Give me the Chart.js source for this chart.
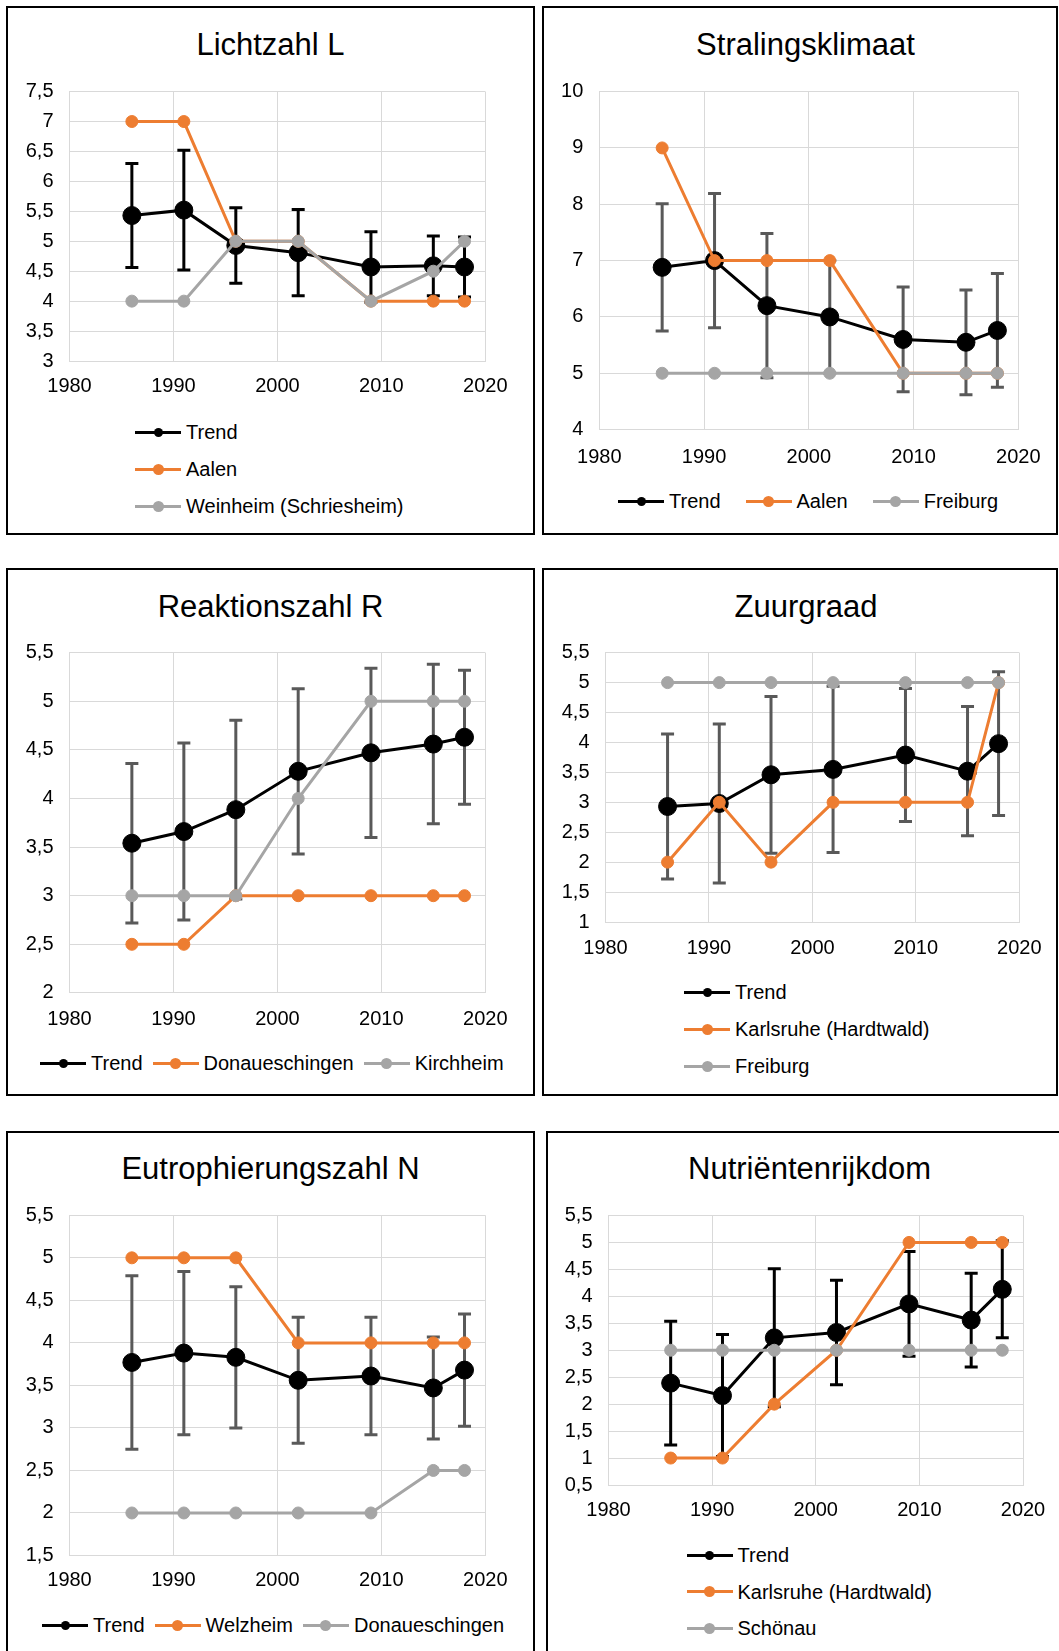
<!DOCTYPE html>
<html><head><meta charset="utf-8">
<script src="https://cdn.jsdelivr.net/npm/chart.js@4.4.1/dist/chart.umd.min.js"></script>
<style>
html,body{margin:0;padding:0;background:#fff;}
body{width:1059px;height:1651px;position:relative;overflow:hidden;font-family:"Liberation Sans",Arial,sans-serif;}
.border{position:absolute;border:2px solid #000;box-sizing:border-box;}
canvas{position:absolute;}
.title{position:absolute;width:500px;text-align:center;font-size:31px;line-height:37px;color:#000;white-space:nowrap;}
.legend{position:absolute;display:flex;font-size:20px;color:#000;}
.item{display:flex;align-items:center;height:24px;white-space:nowrap;}
.sym{position:relative;width:46px;height:24px;flex:none;}
.sym .ln{position:absolute;left:0;right:0;top:10.5px;height:3px;}
.sym .dot{position:absolute;border-radius:50%;}
.txt{margin-left:5px;line-height:24px;}
</style></head><body>
<script>
// ---------- data ----------
const years = [1986, 1991, 1996, 2002, 2009, 2015, 2018];
const xTicks = [1980, 1990, 2000, 2010, 2020];

// Lichtzahl L
const lichtNames = ['Trend', 'Aalen', 'Weinheim (Schriesheim)'];
const lichtTicks = [3, 3.5, 4, 4.5, 5, 5.5, 6, 6.5, 7, 7.5];
const lichtTrend = [5.43, 5.52, 4.93, 4.81, 4.57, 4.59, 4.57];
const lichtErr = [0.87, 1.0, 0.63, 0.72, 0.59, 0.5, 0.5];
const lichtAalen = [7, 7, 5, 5, 4, 4, 4];
const lichtWeinheim = [4, 4, 5, 5, 4, 4.5, 5];

// Stralingsklimaat
const stralNames = ['Trend', 'Aalen', 'Freiburg'];
const stralTicks = [4, 5, 6, 7, 8, 9, 10];
const stralTrend = [6.88, 7.0, 6.2, 6.0, 5.6, 5.55, 5.76];
const stralErr = [1.13, 1.19, 1.28, 1.0, 0.93, 0.93, 1.01];
const stralAalen = [9, 7, 7, 7, 5, 5, 5];
const stralFreiburg = [5, 5, 5, 5, 5, 5, 5];

// Reaktionszahl R
const reakNames = ['Trend', 'Donaueschingen', 'Kirchheim'];
const reakTicks = [2, 2.5, 3, 3.5, 4, 4.5, 5, 5.5];
const reakTrend = [3.54, 3.66, 3.885, 4.28, 4.47, 4.56, 4.63];
const reakErr = [0.82, 0.91, 0.92, 0.85, 0.87, 0.82, 0.69];
const reakDonau = [2.5, 2.5, 3, 3, 3, 3, 3];
const reakKirchheim = [3, 3, 3, 4, 5, 5, 5];

// Zuurgraad
const zuurNames = ['Trend', 'Karlsruhe (Hardtwald)', 'Freiburg'];
const zuurTicks = [1, 1.5, 2, 2.5, 3, 3.5, 4, 4.5, 5, 5.5];
const zuurTrend = [2.93, 2.98, 3.46, 3.55, 3.79, 3.52, 3.98];
const zuurErr = [1.21, 1.33, 1.31, 1.39, 1.11, 1.08, 1.2];
const zuurKarlsruhe = [2, 3, 2, 3, 3, 3, 5];
const zuurFreiburg = [5, 5, 5, 5, 5, 5, 5];

// Eutrophierungszahl N
const eutroNames = ['Trend', 'Welzheim', 'Donaueschingen'];
const eutroTicks = [1.5, 2, 2.5, 3, 3.5, 4, 4.5, 5, 5.5];
const eutroTrend = [3.77, 3.88, 3.83, 3.56, 3.61, 3.47, 3.68];
const eutroErr = [1.02, 0.96, 0.83, 0.74, 0.69, 0.6, 0.66];
const eutroWelzheim = [5, 5, 5, 4, 4, 4, 4];
const eutroDonau = [2, 2, 2, 2, 2, 2.5, 2.5];

// Nutriëntenrijkdom
const nutriNames = ['Trend', 'Karlsruhe (Hardtwald)', 'Schönau'];
const nutriTicks = [0.5, 1, 1.5, 2, 2.5, 3, 3.5, 4, 4.5, 5, 5.5];
const nutriTrend = [2.39, 2.16, 3.23, 3.33, 3.86, 3.56, 4.13];
const nutriErr = [1.15, 1.13, 1.28, 0.97, 0.97, 0.87, 0.9];
const nutriKarlsruhe = [1, 1, 2, 3, 5, 5, 5];
const nutriSchoenau = [3, 3, 3, 3, 3, 3, 3];

// ---------- styles ----------
const ORANGE = '#ED7D31', GRAY = '#A5A5A5', BLACK = '#000000', ERRGRAY = '#595959', GRID = '#D9D9D9';
const FONT = '"Liberation Sans", Arial, sans-serif';

const panels = [
  {title: 'Lichtzahl L', names: lichtNames, yTicks: lichtTicks, trend: lichtTrend, err: lichtErr,
   series: [lichtAalen, lichtWeinheim], colors: [ORANGE, GRAY], errColor: BLACK,
   border: [6, 6, 535, 535], titleX: 270.5, titleY: 44, plot: [69.5, 91.6, 485.3, 361], labelY: 386,
   legend: {dir: 'v', x: 135, y: 432, step: 37}},
  {title: 'Stralingsklimaat', names: stralNames, yTicks: stralTicks, trend: stralTrend, err: stralErr,
   series: [stralAalen, stralFreiburg], colors: [ORANGE, GRAY], errColor: ERRGRAY,
   border: [542, 6, 1058, 535], titleX: 805.5, titleY: 44, plot: [599.3, 91.6, 1018.7, 429.6], labelY: 457,
   legend: {dir: 'h', x: 618, y: 501, gap: 25}},
  {title: 'Reaktionszahl R', names: reakNames, yTicks: reakTicks, trend: reakTrend, err: reakErr,
   series: [reakDonau, reakKirchheim], colors: [ORANGE, GRAY], errColor: ERRGRAY,
   border: [6, 568, 535, 1096], titleX: 270.5, titleY: 606, plot: [69.5, 652.7, 485.3, 992.9], labelY: 1019,
   legend: {dir: 'h', x: 40, y: 1063, gap: 10}},
  {title: 'Zuurgraad', names: zuurNames, yTicks: zuurTicks, trend: zuurTrend, err: zuurErr,
   series: [zuurKarlsruhe, zuurFreiburg], colors: [ORANGE, GRAY], errColor: ERRGRAY,
   border: [542, 568, 1058, 1096], titleX: 806, titleY: 606, plot: [605.5, 652.7, 1019.5, 922], labelY: 948.5,
   legend: {dir: 'v', x: 684, y: 992, step: 37}},
  {title: 'Eutrophierungszahl N', names: eutroNames, yTicks: eutroTicks, trend: eutroTrend, err: eutroErr,
   series: [eutroWelzheim, eutroDonau], colors: [ORANGE, GRAY], errColor: ERRGRAY,
   border: [6, 1131, 535, 1665], titleX: 270.5, titleY: 1168, plot: [69.5, 1215.3, 485.3, 1555.5], labelY: 1580.5,
   legend: {dir: 'h', x: 42, y: 1625, gap: 10}},
  {title: 'Nutriëntenrijkdom', names: nutriNames, yTicks: nutriTicks, trend: nutriTrend, err: nutriErr,
   series: [nutriKarlsruhe, nutriSchoenau], colors: [ORANGE, GRAY], errColor: BLACK,
   border: [546, 1131, 1063, 1665], titleX: 809.5, titleY: 1168, plot: [608.5, 1215.5, 1023, 1485], labelY: 1510,
   legend: {dir: 'v', x: 686.5, y: 1555, step: 36.5}}
];

// ---------- error bar plugin (uses chart scales) ----------
const errorBars = {
  id: 'errorBars',
  beforeDatasetsDraw(chart, args, opts) {
    const ctx = chart.ctx, xs = chart.scales.x, ys = chart.scales.y;
    const ds = chart.data.datasets[0];
    ctx.save();
    ctx.strokeStyle = opts.color;
    ctx.lineWidth = 3;
    ctx.lineCap = 'butt';
    ds.data.forEach((pt, i) => {
      const e = opts.errors[i];
      const px = xs.getPixelForValue(pt.x);
      const t = ys.getPixelForValue(pt.y + e);
      const b = ys.getPixelForValue(pt.y - e);
      ctx.beginPath();
      ctx.moveTo(px, t); ctx.lineTo(px, b);
      ctx.moveTo(px - 6.5, t); ctx.lineTo(px + 6.5, t);
      ctx.moveTo(px - 6.5, b); ctx.lineTo(px + 6.5, b);
      ctx.stroke();
    });
    ctx.restore();
  }
};

function fmt(v) { return String(v).replace('.', ','); }

function makePanel(p) {
  const [bl, bt, br, bb] = p.border;
  const bd = document.createElement('div');
  bd.className = 'border';
  bd.style.cssText = `left:${bl}px;top:${bt}px;width:${br - bl}px;height:${bb - bt}px`;
  document.body.appendChild(bd);

  const ti = document.createElement('div');
  ti.className = 'title';
  ti.textContent = p.title;
  ti.style.left = (p.titleX - 250) + 'px';
  ti.style.top = (p.titleY - 18.5) + 'px';
  document.body.appendChild(ti);

  const cL = bl + 2, cR = Math.min(br - 2, 1059), cW = cR - cL;
  const cT = bt + 2, cB = Math.round(p.labelY + 18), cH = cB - cT;
  const R = cR - p.plot[2];
  const yW = p.plot[0] - cL;
  const padTop = p.plot[1] - cT;
  const xH = cB - p.plot[3];
  const xPad = p.labelY - p.plot[3] - 12;

  const cv = document.createElement('canvas');
  cv.width = cW; cv.height = cH;
  cv.style.cssText = `left:${cL}px;top:${cT}px;width:${cW}px;height:${cH}px`;
  document.body.appendChild(cv);

  const datasets = [{
    label: p.names[0],
    data: years.map((x, i) => ({x, y: p.trend[i]})),
    borderColor: BLACK, backgroundColor: BLACK, borderWidth: 3,
    pointRadius: 9, pointHoverRadius: 9, pointBorderWidth: 1,
    pointBackgroundColor: BLACK, pointBorderColor: BLACK,
    tension: 0, order: 3, legendDot: 9
  }];
  p.series.forEach((vals, k) => {
    datasets.push({
      label: p.names[k + 1],
      data: years.map((x, i) => ({x, y: vals[i]})),
      borderColor: p.colors[k], backgroundColor: p.colors[k], borderWidth: 3,
      pointRadius: 6, pointHoverRadius: 6, pointBorderWidth: 1,
      pointBackgroundColor: p.colors[k], pointBorderColor: p.colors[k],
      tension: 0, order: 2 - k, legendDot: 11
    });
  });

  const chart = new Chart(cv, {
    type: 'line',
    data: {datasets},
    plugins: [errorBars],
    options: {
      responsive: false, animation: false, devicePixelRatio: 1, events: [],
      layout: {padding: {left: 0, right: R, top: padTop, bottom: 0}},
      plugins: {
        legend: {display: false},
        tooltip: {enabled: false},
        title: {display: false},
        errorBars: {errors: p.err, color: p.errColor}
      },
      scales: {
        x: {
          type: 'linear', min: xTicks[0], max: xTicks[xTicks.length - 1],
          afterBuildTicks: s => { s.ticks = xTicks.map(v => ({value: v})); },
          afterFit: s => { s.height = xH; },
          grid: {color: GRID, lineWidth: 1, drawTicks: false},
          border: {color: GRID, width: 1},
          ticks: {color: '#000', font: {family: FONT, size: 20}, padding: xPad, maxRotation: 0, autoSkip: false,
            callback: v => String(v)}
        },
        y: {
          type: 'linear', min: p.yTicks[0], max: p.yTicks[p.yTicks.length - 1],
          afterBuildTicks: s => { s.ticks = p.yTicks.map(v => ({value: v})); },
          afterFit: s => { s.width = yW; },
          grid: {color: GRID, lineWidth: 1, drawTicks: false},
          border: {color: GRID, width: 1},
          ticks: {color: '#000', font: {family: FONT, size: 20}, padding: 16, autoSkip: false,
            callback: v => fmt(v)}
        }
      }
    }
  });

  // HTML legend generated from the chart's datasets
  const lg = document.createElement('div');
  lg.className = 'legend';
  const L = p.legend;
  lg.style.left = L.x + 'px';
  lg.style.top = (L.y - 12) + 'px';
  if (L.dir === 'v') { lg.style.flexDirection = 'column'; lg.style.rowGap = (L.step - 24) + 'px'; }
  else { lg.style.flexDirection = 'row'; lg.style.columnGap = L.gap + 'px'; }
  chart.data.datasets.forEach(ds => {
    const it = document.createElement('div'); it.className = 'item';
    const sym = document.createElement('span'); sym.className = 'sym';
    const ln = document.createElement('span'); ln.className = 'ln'; ln.style.background = ds.borderColor;
    const dot = document.createElement('span'); dot.className = 'dot';
    const d = ds.legendDot;
    dot.style.cssText = `width:${d}px;height:${d}px;left:${23 - d / 2}px;top:${12 - d / 2}px;background:${ds.borderColor}`;
    sym.appendChild(ln); sym.appendChild(dot);
    const tx = document.createElement('span'); tx.className = 'txt'; tx.textContent = ds.label;
    it.appendChild(sym); it.appendChild(tx);
    lg.appendChild(it);
  });
  document.body.appendChild(lg);
}

panels.forEach(makePanel);
</script>
</body></html>
